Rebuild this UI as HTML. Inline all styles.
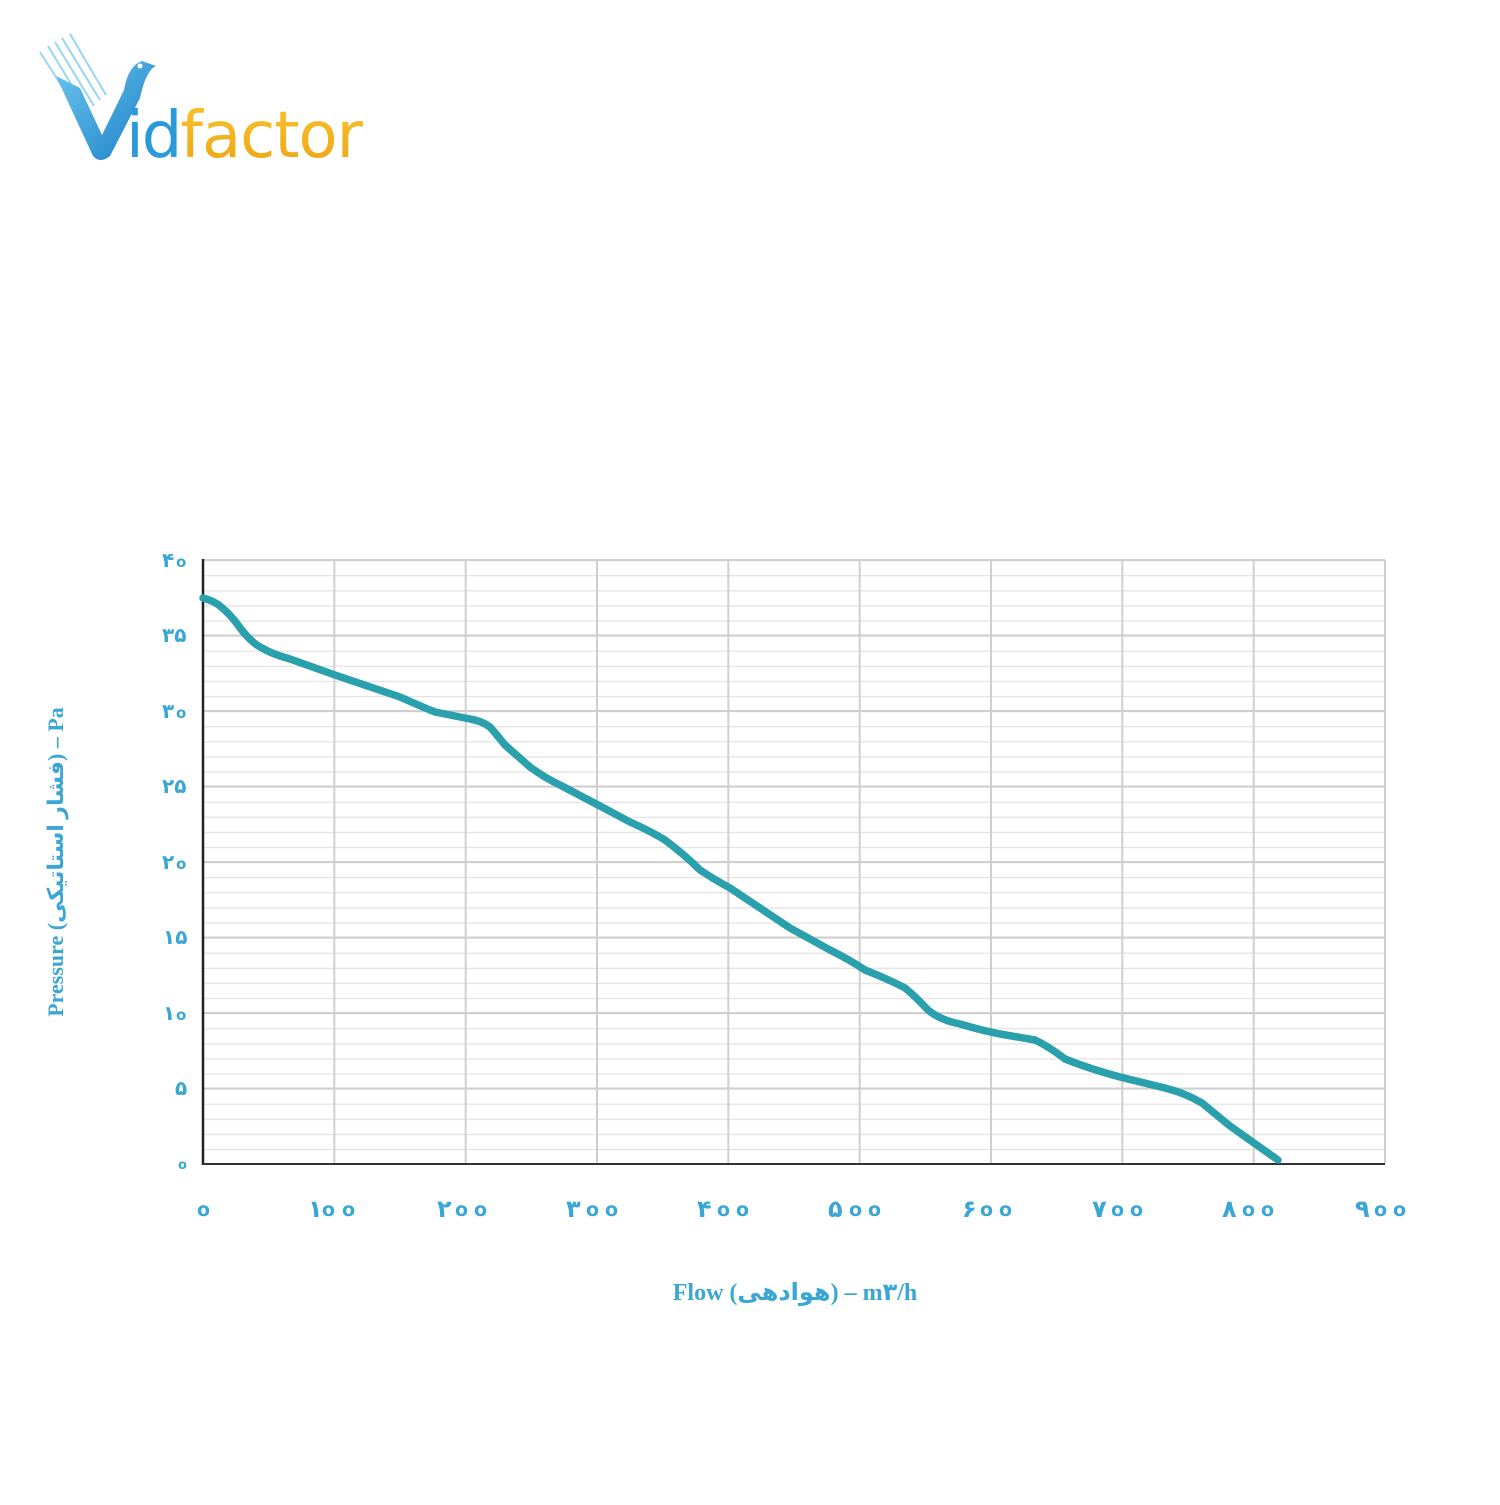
<!DOCTYPE html>
<html><head><meta charset="utf-8"><style>
html,body{margin:0;padding:0;background:#fff;}
body{width:1500px;height:1500px;position:relative;overflow:hidden;}
</style></head><body>
<svg width="1500" height="1500" viewBox="0 0 1500 1500" xmlns="http://www.w3.org/2000/svg">
<defs>
<pattern id="minor" x="203" y="560" width="1182" height="15.1" patternUnits="userSpaceOnUse">
<line x1="0" y1="0.5" x2="1182" y2="0.5" stroke="#e2e2e2" stroke-width="1.5"/>
</pattern>
<linearGradient id="bird" x1="0" y1="0" x2="1" y2="1"><stop offset="0" stop-color="#6cc6ee"/><stop offset="1" stop-color="#1b7fc8"/></linearGradient>
<linearGradient id="gold" x1="0" y1="0" x2="0" y2="1"><stop offset="0" stop-color="#f7c531"/><stop offset="1" stop-color="#eea312"/></linearGradient>
</defs>
<!-- logo -->
<g stroke="#7fcbef" stroke-width="2" opacity="0.8">
<line x1="40" y1="52" x2="82" y2="118"/><line x1="48" y1="46" x2="88" y2="112"/><line x1="55" y1="42" x2="94" y2="106"/><line x1="62" y1="38" x2="100" y2="100"/><line x1="70" y1="34" x2="106" y2="95"/>
</g>
<path d="M56 76 L93 156 Q100 164 110 156 L140 98 Q146 70 156 66 L142 61 Q128 66 124 90 L102 135 L80 88 Z" fill="url(#bird)"/>
<circle cx="140" cy="66" r="2.5" fill="#fff"/>
<text x="126" y="157" font-family="DejaVu Sans, sans-serif" font-size="64" fill="#2a9ad8" letter-spacing="-2"><tspan>id</tspan><tspan fill="url(#gold)" letter-spacing="-1">factor</tspan></text>
<!-- grid -->
<rect x="203" y="560" width="1182" height="604" fill="url(#minor)"/>
<g stroke="#cfcfcf" stroke-width="2">
<line x1="203" y1="560" x2="1385" y2="560"/><line x1="203" y1="635.5" x2="1385" y2="635.5"/><line x1="203" y1="711" x2="1385" y2="711"/><line x1="203" y1="786.5" x2="1385" y2="786.5"/><line x1="203" y1="862" x2="1385" y2="862"/><line x1="203" y1="937.5" x2="1385" y2="937.5"/><line x1="203" y1="1013" x2="1385" y2="1013"/><line x1="203" y1="1088.5" x2="1385" y2="1088.5"/>
<line x1="334.3" y1="560" x2="334.3" y2="1164"/><line x1="465.7" y1="560" x2="465.7" y2="1164"/><line x1="597" y1="560" x2="597" y2="1164"/><line x1="728.3" y1="560" x2="728.3" y2="1164"/><line x1="859.7" y1="560" x2="859.7" y2="1164"/><line x1="991" y1="560" x2="991" y2="1164"/><line x1="1122.3" y1="560" x2="1122.3" y2="1164"/><line x1="1253.7" y1="560" x2="1253.7" y2="1164"/><line x1="1385" y1="560" x2="1385" y2="1164"/>
</g>
<line x1="203" y1="559" x2="203" y2="1165" stroke="#222" stroke-width="2.5"/>
<line x1="203" y1="1164" x2="1385" y2="1164" stroke="#333" stroke-width="2"/>
<!-- curve -->
<path d="M203 598 Q214 601 220 606 Q230 614 238 625 Q250 642 262 648 Q272 654 290 659 L335 675 L400 697 Q420 706 435 712 Q455 716 470 719 Q482 721 490 727 Q497 735 505 745 L530 767 Q545 778 560 785 L600 806 L630 822 Q650 831 665 840 Q685 855 700 870 Q715 880 730 888 L790 928 L830 950 Q850 960 865 970 Q890 980 905 988 Q915 996 928 1010 Q940 1020 960 1024 Q980 1030 1000 1034 L1035 1040 Q1048 1046 1065 1059 Q1090 1069 1120 1077 L1165 1088 Q1185 1093 1202 1103 L1230 1126 L1278 1160" fill="none" stroke="#2aa0ad" stroke-width="7.5" stroke-linecap="round" stroke-linejoin="round"/>
<!-- y labels -->
<g font-family="DejaVu Sans, sans-serif" font-size="20" font-weight="bold" fill="#3aa6d4">
<text x="162" y="567">۴</text><text x="176" y="567" font-size="15">o</text>
<text x="162" y="642">۳۵</text>
<text x="162" y="718">۳</text><text x="176" y="718" font-size="15">o</text>
<text x="162" y="793">۲۵</text>
<text x="162" y="869">۲</text><text x="176" y="869" font-size="15">o</text>
<text x="163" y="944">۱۵</text>
<text x="163" y="1020">۱</text><text x="176" y="1020" font-size="15">o</text>
<text x="175" y="1095">۵</text>
<text x="178" y="1169" font-size="13">o</text>
</g>
<!-- x labels -->
<g font-family="DejaVu Sans, sans-serif" font-size="24" font-weight="bold" fill="#3aa6d4">
<text x="197" y="1216" font-size="19">o</text>
<text x="308" y="1217">۱</text><text x="322" y="1216" font-size="19">o</text><text x="342" y="1216" font-size="19">o</text>
<text x="437" y="1217">۲</text><text x="455" y="1216" font-size="19">o</text><text x="474" y="1216" font-size="19">o</text>
<text x="566" y="1217">۳</text><text x="586" y="1216" font-size="19">o</text><text x="605" y="1216" font-size="19">o</text>
<text x="697" y="1217">۴</text><text x="717" y="1216" font-size="19">o</text><text x="736" y="1216" font-size="19">o</text>
<text x="828" y="1217">۵</text><text x="849" y="1216" font-size="19">o</text><text x="868" y="1216" font-size="19">o</text>
<text x="962" y="1217">۶</text><text x="980" y="1216" font-size="19">o</text><text x="999" y="1216" font-size="19">o</text>
<text x="1092" y="1217">۷</text><text x="1111" y="1216" font-size="19">o</text><text x="1130" y="1216" font-size="19">o</text>
<text x="1222" y="1217">۸</text><text x="1242" y="1216" font-size="19">o</text><text x="1261" y="1216" font-size="19">o</text>
<text x="1355" y="1217">۹</text><text x="1374" y="1216" font-size="19">o</text><text x="1393" y="1216" font-size="19">o</text>
</g>
<text x="795" y="1300" text-anchor="middle" font-family="Liberation Serif, DejaVu Sans, serif" font-size="24" font-weight="bold" fill="#3aa6d4">Flow (هوادهی) – m۳/h</text>
<text transform="translate(63,862) rotate(-90)" text-anchor="middle" font-family="Liberation Serif, DejaVu Sans, serif" font-size="22" font-weight="bold" fill="#3aa6d4">Pressure (فشار استاتیکی) – Pa</text>
</svg>
</body></html>
